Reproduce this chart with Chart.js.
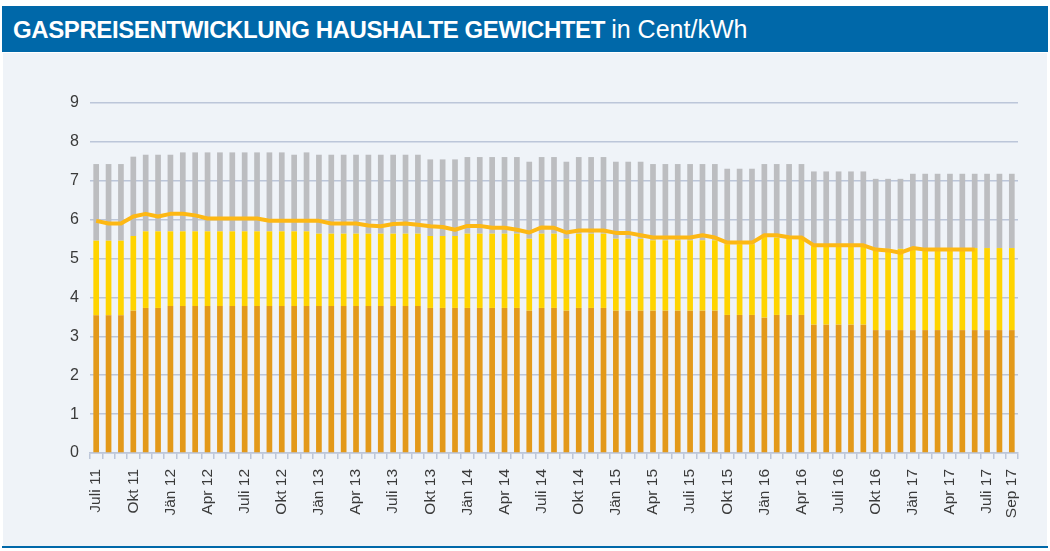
<!DOCTYPE html>
<html>
<head>
<meta charset="utf-8">
<script src="https://cdn.jsdelivr.net/npm/chart.js@4.4.1/dist/chart.umd.min.js"></script>
<style>
  html, body { margin: 0; padding: 0; background: #ffffff; }
  body { width: 1050px; height: 551px; position: relative; overflow: hidden; font-family: "Liberation Sans", Arial, sans-serif; }
  #header { position: absolute; left: 2px; top: 6px; width: 1046px; height: 46px; background: #0068a9; color: #fff; }
  #header span.b { position: absolute; left: 11px; top: 9px; font-size: 24px; font-weight: bold; white-space: nowrap; letter-spacing: -0.4px; }
  #header span.b .l { font-weight: normal; letter-spacing: 0; font-size: 25px; }
  #panel { position: absolute; left: 3px; top: 53px; width: 1044px; height: 493px; background: #eff3f8; }
  #bottomline { position: absolute; left: 2px; top: 546px; width: 1046px; height: 2px; background: #0068a9; }
  #wrap { position: absolute; left: 0; top: 0; width: 1044px; height: 493px; }
</style>
</head>
<body>
<div id="header"><span class="b">GASPREISENTWICKLUNG HAUSHALTE GEWICHTET <span class="l">in Cent/kWh</span></span></div>
<div id="panel"><div id="wrap"><canvas id="c" width="1044" height="493"></canvas></div></div>
<div id="bottomline"></div>
<script>
const categories = [
  "Juli 11","Aug 11","Sep 11","Okt 11","Nov 11","Dez 11",
  "Jän 12","Feb 12","Mär 12","Apr 12","Mai 12","Juni 12","Juli 12","Aug 12","Sep 12","Okt 12","Nov 12","Dez 12",
  "Jän 13","Feb 13","Mär 13","Apr 13","Mai 13","Juni 13","Juli 13","Aug 13","Sep 13","Okt 13","Nov 13","Dez 13",
  "Jän 14","Feb 14","Mär 14","Apr 14","Mai 14","Juni 14","Juli 14","Aug 14","Sep 14","Okt 14","Nov 14","Dez 14",
  "Jän 15","Feb 15","Mär 15","Apr 15","Mai 15","Juni 15","Juli 15","Aug 15","Sep 15","Okt 15","Nov 15","Dez 15",
  "Jän 16","Feb 16","Mär 16","Apr 16","Mai 16","Juni 16","Juli 16","Aug 16","Sep 16","Okt 16","Nov 16","Dez 16",
  "Jän 17","Feb 17","Mär 17","Apr 17","Mai 17","Juni 17","Juli 17","Aug 17","Sep 17"
];

// bottom segment (orange)
const energy = [
  3.54,3.54,3.54,3.66,3.73,3.73,
  3.78,3.78,3.78,3.78,3.78,3.78,3.78,3.78,3.78,3.78,3.78,3.78,
  3.78,3.78,3.78,3.78,3.78,3.78,3.78,3.78,3.78,3.73,3.73,3.73,
  3.73,3.73,3.73,3.73,3.73,3.66,3.73,3.73,3.66,3.73,3.73,3.73,
  3.66,3.66,3.66,3.66,3.66,3.66,3.66,3.66,3.66,3.55,3.55,3.55,
  3.48,3.55,3.55,3.55,3.30,3.30,3.30,3.30,3.30,3.16,3.16,3.16,
  3.16,3.16,3.16,3.16,3.16,3.16,3.16,3.16,3.16
];

// middle segment (yellow)
const network = [
  1.92,1.92,1.92,1.92,1.97,1.97,
  1.92,1.92,1.92,1.92,1.92,1.92,1.92,1.92,1.92,1.92,1.92,1.92,
  1.86,1.86,1.86,1.86,1.86,1.86,1.86,1.86,1.86,1.85,1.85,1.85,
  1.91,1.91,1.91,1.91,1.91,1.85,1.91,1.91,1.85,1.91,1.91,1.91,
  1.85,1.85,1.85,1.81,1.81,1.81,1.81,1.81,1.81,1.82,1.82,1.82,
  2.08,1.99,1.99,1.99,2.02,2.02,2.02,2.02,2.02,2.09,2.09,2.09,
  2.11,2.11,2.11,2.11,2.11,2.11,2.11,2.11,2.11
];

// top segment (grey)
const taxes = [
  1.97,1.97,1.97,2.04,1.97,1.97,
  1.97,2.03,2.03,2.03,2.03,2.03,2.03,2.03,2.03,2.03,1.97,2.03,
  2.03,2.03,2.03,2.03,2.03,2.03,2.03,2.03,2.03,1.97,1.97,1.97,
  1.97,1.97,1.97,1.97,1.97,1.98,1.97,1.97,1.98,1.97,1.97,1.97,
  1.98,1.98,1.98,1.96,1.96,1.96,1.96,1.96,1.96,1.94,1.94,1.94,
  1.87,1.89,1.89,1.89,1.92,1.92,1.92,1.92,1.92,1.80,1.80,1.80,
  1.91,1.91,1.91,1.91,1.91,1.91,1.91,1.91,1.91
];

// line
const average = [
  5.97,5.90,5.90,6.08,6.15,6.08,
  6.15,6.15,6.11,6.03,6.03,6.03,6.03,6.03,5.97,5.97,5.97,5.97,
  5.97,5.90,5.90,5.90,5.85,5.83,5.89,5.90,5.87,5.83,5.81,5.74,
  5.84,5.84,5.79,5.79,5.74,5.67,5.80,5.79,5.67,5.72,5.72,5.72,
  5.66,5.66,5.60,5.54,5.54,5.54,5.54,5.60,5.54,5.41,5.41,5.41,
  5.60,5.60,5.55,5.54,5.34,5.34,5.34,5.34,5.34,5.23,5.21,5.15,
  5.27,5.23,5.23,5.23,5.23,5.23,null,null,null
];

const yTicks = [0,1,2,3,4,5,6,7,8,9];

const gridColor = '#bcc6d9';
const textColor = '#3a3a3a';
const FONT = '"Liberation Sans", Arial, sans-serif';

new Chart(document.getElementById('c'), {
  type: 'bar',
  data: {
    labels: categories,
    datasets: [
      { type: 'line', data: average, borderColor: '#fdb814', borderWidth: 4, pointRadius: 0, tension: 0, stack: 'line', order: 0, borderJoinStyle: 'round', spanGaps: false },
      { data: energy, backgroundColor: '#e3991a', stack: 's', order: 1, barPercentage: 0.46, categoryPercentage: 1 },
      { data: network, backgroundColor: '#ffd400', stack: 's', order: 1, barPercentage: 0.46, categoryPercentage: 1 },
      { data: taxes, backgroundColor: '#bcbdc0', stack: 's', order: 1, barPercentage: 0.46, categoryPercentage: 1 }
    ]
  },
  options: {
    responsive: false,
    animation: false,
    devicePixelRatio: 1,
    layout: { padding: { left: 0, right: 29, top: 50, bottom: 0 } },
    plugins: { legend: { display: false }, tooltip: { enabled: false } },
    scales: {
      x: {
        stacked: true,
        grid: { drawOnChartArea: false, drawTicks: true, tickLength: 6, color: gridColor, lineWidth: 1.5 },
        border: { display: true, color: gridColor, width: 1.5 },
        ticks: {
          autoSkip: false, maxRotation: 90, minRotation: 90, padding: 10,
          color: textColor, font: { family: FONT, size: 15.5 },
          callback: function(v, i) { return (i % 3 === 0 || i === categories.length - 1) ? categories[i] : ''; }
        },
        afterFit: function(s) { s.height = 93; }
      },
      y: {
        stacked: true,
        min: 0, max: 9,
        afterBuildTicks: function(s) { s.ticks = yTicks.map(v => ({ value: v })); },
        grid: { color: gridColor, lineWidth: 1.5, drawTicks: false },
        border: { display: false },
        ticks: { color: textColor, font: { family: FONT, size: 16 }, padding: 11 },
        afterFit: function(s) { s.width = 87; }
      }
    }
  }
});
</script>
</body>
</html>
